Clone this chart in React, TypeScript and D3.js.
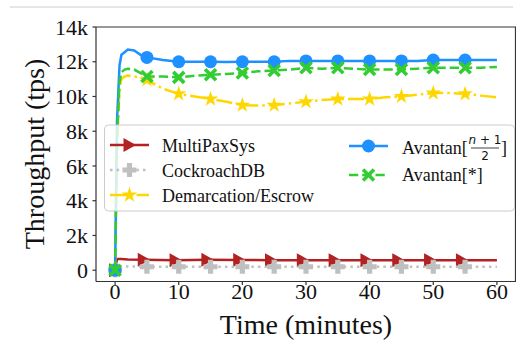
import React from "react";
import * as d3 from "d3";

// ---- data ----
const times = [0, 0.3, 0.7, 1, 1.5, 2, 3, 4, 5, 7.5, 10, 12.5, 15, 17.5, 20, 22.5, 25, 27.5, 30, 32.5, 35, 37.5, 40, 42.5, 45, 47.5, 50, 52.5, 55, 57.5, 60];
const avantanHalf = [0, 8600, 11800, 12400, 12550, 12700, 12650, 12400, 12250, 12100, 12000, 12000, 12000, 11980, 12000, 12000, 12000, 12050, 12050, 12050, 12050, 12050, 12050, 12050, 12050, 12050, 12100, 12100, 12100, 12100, 12100];
const avantanAll = [0, 7500, 10800, 11400, 11550, 11600, 11550, 11350, 11150, 11150, 11100, 11200, 11250, 11300, 11350, 11450, 11500, 11550, 11650, 11600, 11650, 11600, 11550, 11550, 11550, 11600, 11650, 11650, 11650, 11650, 11700];
const demarcation = [0, 7000, 10500, 11000, 11150, 11200, 11150, 11100, 10950, 10450, 10150, 10000, 9850, 9700, 9500, 9480, 9500, 9600, 9700, 9800, 9850, 9850, 9850, 9950, 10000, 10100, 10200, 10200, 10150, 10050, 9950];
const crTimes = [0, 0.3, 5, 10, 15, 20, 25, 30, 35, 40, 45, 50, 55, 60];
const cockroach = [0, 220, 200, 200, 200, 200, 200, 200, 200, 200, 200, 200, 200, 200];
const mpTimes = [0, 0.3, 1, 2, 4.5, 9.5, 14.5, 19.5, 24.5, 29.5, 34.5, 39.5, 44.5, 49.5, 54.5, 60];
const multiPax = [0, 650, 650, 620, 600, 580, 600, 590, 580, 580, 580, 580, 580, 580, 580, 580];
const markerTimes = [0, 5, 10, 15, 20, 25, 30, 35, 40, 45, 50, 55];
const mpMarkerTimes = [0, 4.5, 9.5, 14.5, 19.5, 24.5, 29.5, 34.5, 39.5, 44.5, 49.5, 54.5];
const xTicks = [0, 10, 20, 30, 40, 50, 60];
const yTicks = [0, 2000, 4000, 6000, 8000, 10000, 12000, 14000];
const yTickLabels = ["0", "2k", "4k", "6k", "8k", "10k", "12k", "14k"];

const W = 516;
const H = 349;
const L = 96, R = 516, T = 27, B = 281.5;
const SERIF = "'Liberation Serif', 'Times New Roman', serif";

const x = d3.scaleLinear().domain([-3, 63]).range([L, R]);
const y = d3.scaleLinear().domain([-650, 14000]).range([B, T]);

const COLORS = {
  red: "#b22222",
  gray: "#c0c0c0",
  gold: "#ffd700",
  blue: "#1e90ff",
  green: "#32cd32",
};

type MarkerKind = "tri" | "plus" | "star" | "circle" | "x";

function Marker({ kind, cx, cy, color }: { kind: MarkerKind; cx: number; cy: number; color: string }) {
  if (kind === "circle") return <circle cx={cx} cy={cy} r={6.5} fill={color} />;
  if (kind === "tri")
    return <path d={`M${cx + 6.5},${cy} L${cx - 6},${cy - 7} L${cx - 6},${cy + 7} Z`} fill={color} />;
  if (kind === "star") {
    const r = 8.2;
    const p = d3.symbol().type(d3.symbolStar).size((r * r) / 0.8908130915292852)();
    return <path d={p || ""} transform={`translate(${cx},${cy})`} fill={color} />;
  }
  if (kind === "plus") {
    const a = 7, t = 2.6;
    const d = `M${cx - t},${cy - a} H${cx + t} V${cy - t} H${cx + a} V${cy + t} H${cx + t} V${cy + a} H${cx - t} V${cy + t} H${cx - a} V${cy - t} H${cx - t} Z`;
    return <path d={d} fill={color} />;
  }
  const s = 5.5;
  return (
    <g stroke={color} strokeWidth={3.6} strokeLinecap="butt">
      <line x1={cx - s} y1={cy - s} x2={cx + s} y2={cy + s} />
      <line x1={cx - s} y1={cy + s} x2={cx + s} y2={cy - s} />
    </g>
  );
}

type Series = {
  name: string;
  t: number[];
  v: number[];
  mt: number[];
  color: string;
  dash?: string;
  marker: MarkerKind;
};

const series: Series[] = [
  { name: "MultiPaxSys", t: mpTimes, v: multiPax, mt: mpMarkerTimes, color: COLORS.red, marker: "tri" },
  { name: "CockroachDB", t: crTimes, v: cockroach, mt: markerTimes, color: COLORS.gray, dash: "2.5,4.1", marker: "plus" },
  { name: "Demarcation/Escrow", t: times, v: demarcation, mt: markerTimes, color: COLORS.gold, dash: "16,4,2.5,4", marker: "star" },
  { name: "AvantanHalf", t: times, v: avantanHalf, mt: markerTimes, color: COLORS.blue, marker: "circle" },
  { name: "Avantan[*]", t: times, v: avantanAll, mt: markerTimes, color: COLORS.green, dash: "9.25,4", marker: "x" },
];

const line = d3
  .line<[number, number]>()
  .x((d) => x(d[0]))
  .y((d) => y(d[1]));

function valueAt(s: Series, tt: number) {
  const i = s.t.indexOf(tt);
  return s.v[i];
}

function LegendHandle({ s, x1, x2, cy }: { s: Series; x1: number; x2: number; cy: number }) {
  return (
    <g>
      <line x1={x1} x2={x2} y1={cy} y2={cy} stroke={s.color} strokeWidth={2.5} strokeDasharray={s.dash} />
      <Marker kind={s.marker} cx={(x1 + x2) / 2} cy={cy} color={s.color} />
    </g>
  );
}

export default function App() {
  return (
    <svg width={W} height={H} style={{ position: "absolute", left: 0, top: 0, background: "#fff" }}>
      <rect x={0} y={0} width={W} height={H} fill="#fff" />
      <line x1={10} x2={513} y1={7} y2={7} stroke="#cccccc" strokeWidth={1} />

      {/* series */}
      {series.map((s) => (
        <g key={s.name}>
          <path
            d={line(s.t.map((tt, i) => [tt, s.v[i]] as [number, number])) || ""}
            fill="none"
            stroke={s.color}
            strokeWidth={2.5}
            strokeDasharray={s.dash}
          />
          {s.mt.map((tt) => (
            <Marker key={tt} kind={s.marker} cx={x(tt)} cy={y(valueAt(s, tt))} color={s.color} />
          ))}
        </g>
      ))}

      {/* spines */}
      <g stroke="#333" strokeWidth={1.2} fill="none">
        <line x1={L} x2={L} y1={T} y2={B} />
        <line x1={L} x2={R} y1={B} y2={B} />
        <line x1={L} x2={R} y1={T} y2={T} />
        <line x1={R - 0.5} x2={R - 0.5} y1={T} y2={B} />
      </g>

      {/* y axis */}
      {yTicks.map((v, i) => (
        <g key={v}>
          <line x1={L - 3.5} x2={L} y1={y(v)} y2={y(v)} stroke="#333" strokeWidth={1.2} />
          <text x={L - 8} y={y(v)} dy="0.35em" textAnchor="end" fontFamily={SERIF} fontSize={22} fill="#111">
            {yTickLabels[i]}
          </text>
        </g>
      ))}
      {/* x axis */}
      {xTicks.map((v) => (
        <g key={v}>
          <line x1={x(v)} x2={x(v)} y1={B} y2={B + 3.5} stroke="#333" strokeWidth={1.2} />
          <text x={x(v)} y={299} textAnchor="middle" fontFamily={SERIF} fontSize={22} fill="#111">
            {v}
          </text>
        </g>
      ))}

      <text x={306} y={334} textAnchor="middle" fontFamily={SERIF} fontSize={28} fill="#111">
        Time (minutes)
      </text>
      <text
        transform={`translate(44,154) rotate(-90)`}
        textAnchor="middle"
        fontFamily={SERIF}
        fontSize={28}
        fill="#111"
      >
        Throughput (tps)
      </text>

      {/* legend */}
      <rect x={104.5} y={125} width={410} height={86} rx={4} fill="#fff" fillOpacity={0.8} stroke="#cccccc" strokeWidth={1} />
      <LegendHandle s={series[0]} x1={110} x2={149} cy={145} />
      <LegendHandle s={series[1]} x1={110} x2={149} cy={170} />
      <LegendHandle s={series[2]} x1={110} x2={149} cy={195} />
      <LegendHandle s={series[3]} x1={349} x2={388} cy={146} />
      <LegendHandle s={series[4]} x1={349} x2={388} cy={175} />
      <g fontFamily={SERIF} fontSize={18} fill="#111">
        <text x={162} y={152}>MultiPaxSys</text>
        <text x={162} y={177}>CockroachDB</text>
        <text x={162} y={202}>Demarcation/Escrow</text>
        <text x={402} y={154}>Avantan[</text>
        <text x={501} y={154}>]</text>
        <text x={402} y={181}>Avantan[*]</text>
      </g>
      <g fontFamily="'DejaVu Sans', sans-serif" fontSize={12} fill="#111">
        <text x={485} y={144} textAnchor="middle">
          <tspan fontStyle="italic">n</tspan> + 1
        </text>
        <line x1={471} x2={499} y1={148} y2={148} stroke="#111" strokeWidth={0.8} />
        <text x={485} y={160} textAnchor="middle">2</text>
      </g>
    </svg>
  );
}
